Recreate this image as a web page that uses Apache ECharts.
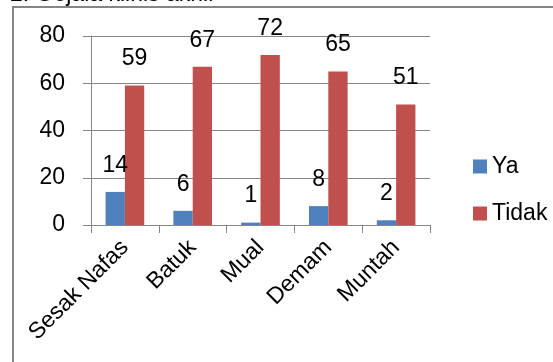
<!DOCTYPE html>
<html>
<head>
<meta charset="utf-8">
<script src="https://cdn.jsdelivr.net/npm/echarts@6/dist/echarts.min.js"></script>
<style>
  html, body { margin: 0; padding: 0; background: #fff; }
  #chart { width: 553px; height: 362px; }
</style>
</head>
<body>
<div id="chart"></div>
<script>
const categories = ["Sesak Nafas", "Batuk", "Mual", "Demam", "Muntah"];
const yaValues = [14, 6, 1, 8, 2];
const tidakValues = [59, 67, 72, 65, 51];
const seriesNames = ["Ya", "Tidak"];
const titleText = "2. Gejala klinis akhir";

const font = "Liberation Sans";
const gray = "#868686";

const chart = echarts.init(document.getElementById("chart"));

function barSeries(name, values, color) {
  return {
    name: name,
    type: "bar",
    data: values,
    barGap: "0%",
    barCategoryGap: "43%",
    itemStyle: { color: color },
    label: {
      show: true,
      position: "top",
      distance: 15,
      color: "#000",
      fontFamily: font,
      fontSize: 23
    },
    animation: false
  };
}

const option = {
  animation: false,
  graphic: [
    {
      type: "rect",
      shape: { x: 13, y: 7, width: 600, height: 400 },
      style: { fill: "none", stroke: gray, lineWidth: 2 }
    },
    {
      type: "text",
      style: {
        x: 10, y: 6,
        text: titleText,
        fill: "#000",
        font: "23px " + font,
        verticalAlign: "bottom"
      }
    }
  ],
  grid: { left: 91, top: 36, right: 123, bottom: 137, containLabel: false },
  legend: {
    orient: "vertical",
    left: 473,
    top: 155,
    padding: 0,
    itemWidth: 14,
    itemHeight: 14,
    itemGap: 24,
    icon: "rect",
    data: seriesNames,
    textStyle: { fontFamily: font, fontSize: 23, color: "#000", lineHeight: 23 }
  },
  xAxis: {
    type: "category",
    data: categories,
    axisLine: { lineStyle: { color: gray, width: 1 } },
    axisTick: { show: true, length: 8, lineStyle: { color: gray } },
    axisLabel: {
      rotate: 45,
      margin: 19,
      interval: 0,
      color: "#000",
      fontFamily: font,
      fontSize: 23
    }
  },
  yAxis: {
    type: "value",
    min: 0,
    max: 80,
    interval: 20,
    axisLine: { show: true, lineStyle: { color: gray } },
    axisTick: { show: true, length: 8, inside: false, lineStyle: { color: gray } },
    splitLine: { lineStyle: { color: gray } },
    axisLabel: {
      margin: 26,
      color: "#000",
      fontFamily: font,
      fontSize: 23
    }
  },
  series: [
    barSeries(seriesNames[0], yaValues, "#4F81BD"),
    barSeries(seriesNames[1], tidakValues, "#C0504D")
  ]
};

chart.setOption(option);
</script>
</body>
</html>
